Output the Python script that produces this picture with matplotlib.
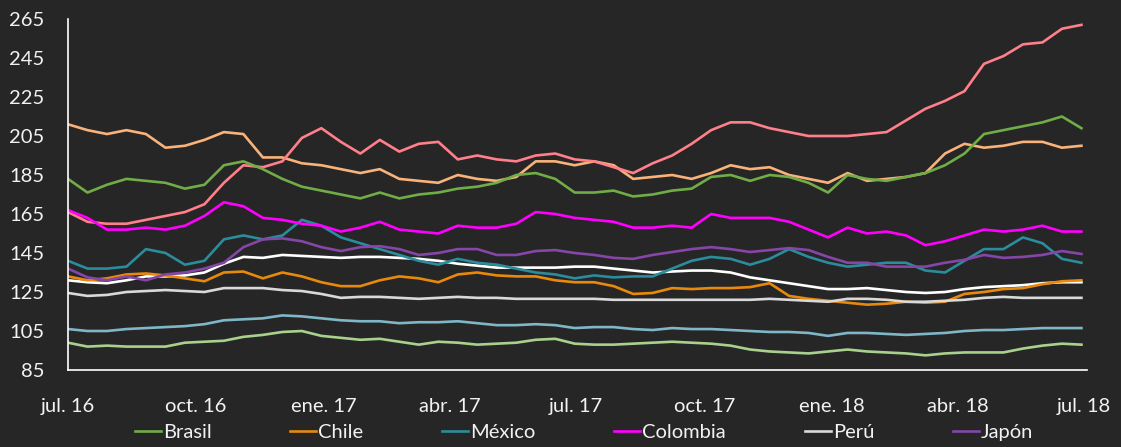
import matplotlib
matplotlib.use("Agg")
import matplotlib.pyplot as plt
import pandas as pd

# biweekly samples from 2016-07-01
dates = pd.date_range("2016-07-01", periods=53, freq="14D")

brasil = [183, 176, 180, 183, 182, 181, 178, 180, 190, 192, 188, 183, 179, 177, 175, 173,
          176, 173, 175, 176, 178, 179, 181, 185, 186, 183, 176, 176, 177, 174, 175, 177,
          178, 184, 185, 182, 185, 184, 181, 176, 185, 183, 182, 184, 186, 190, 196, 206,
          208, 210, 212, 215, 209]
brasil_b = [99, 97, 97.5, 97, 97, 97, 99, 99.5, 100, 102, 103, 104.5, 105, 102.5, 101.5, 100.5,
            101, 99.5, 98, 99.5, 99, 98, 98.5, 99, 100.5, 101, 98.5, 98, 98, 98.5, 99, 99.5,
            99, 98.5, 97.5, 95.5, 94.5, 94, 93.5, 94.5, 95.5, 94.5, 94, 93.5, 92.5, 93.5, 94, 94,
            94, 96, 97.5, 98.5, 98]
chile = [133, 131, 132, 134, 134.5, 133.5, 132, 130.5, 135, 135.5, 132, 135, 133, 130, 128, 128,
         131, 133, 132, 130, 134, 135, 133.5, 133, 133, 131, 130, 130, 128, 124, 124.5, 127,
         126.5, 127, 127, 127.5, 129.5, 123, 121.5, 120.5, 119.5, 118.5, 119, 120, 119.5, 120, 124, 125,
         126.5, 127, 129, 130.5, 131]
chile_b = [211, 208, 206, 208, 206, 199, 200, 203, 207, 206, 194, 194, 191, 190, 188, 186,
           188, 183, 182, 181, 185, 183, 182, 184, 192, 192, 190, 192, 190, 183, 184, 185,
           183, 186, 190, 188, 189, 185, 183, 181, 186, 182, 183, 184, 186, 196, 201, 199,
           200, 202, 202, 199, 200]
mexico = [141, 137, 137, 138, 147, 145, 139, 141, 152, 154, 152, 154, 162, 159, 153, 150,
          147, 144, 141, 139, 142, 140, 139, 137, 135, 134, 132, 133.5, 132.5, 133, 133, 137,
          141, 143, 142, 139, 142, 147, 143, 140, 138, 139, 140, 140, 136, 135, 141, 147,
          147, 153, 150, 142, 140]
mexico_b = [106, 105, 105, 106, 106.5, 107, 107.5, 108.5, 110.5, 111, 111.5, 113, 112.5, 111.5, 110.5, 110,
            110, 109, 109.5, 109.5, 110, 109, 108, 108, 108.5, 108, 106.5, 107, 107, 106, 105.5, 106.5,
            106, 106, 105.5, 105, 104.5, 104.5, 104, 102.5, 104, 104, 103.5, 103, 103.5, 104, 105, 105.5,
            105.5, 106, 106.5, 106.5, 106.5]
colombia = [167, 163, 157, 157, 158, 157, 159, 164, 171, 169, 163, 162, 160, 159, 156, 158,
            161, 157, 156, 155, 159, 158, 158, 160, 166, 165, 163, 162, 161, 158, 158, 159,
            158, 165, 163, 163, 163, 161, 157, 153, 158, 155, 156, 154, 149, 151, 154, 157,
            156, 157, 159, 156, 156]
colombia_b = [166, 161, 160, 160, 162, 164, 166, 170, 181, 190, 189, 192, 204, 209, 202, 196,
              203, 197, 201, 202, 193, 195, 193, 192, 195, 196, 193, 192, 189, 186, 191, 195,
              201, 208, 212, 212, 209, 207, 205, 205, 205, 206, 207, 213, 219, 223, 228, 242,
              246, 252, 253, 260, 262]
peru = [124.5, 123, 123.5, 125, 125.5, 126, 125.5, 125, 127, 127, 127, 126, 125.5, 124, 122, 122.5,
        122.5, 122, 121.5, 122, 122.5, 122, 122, 121.5, 121.5, 121.5, 121.5, 121.5, 121, 121, 121, 121,
        121, 121, 121, 121, 121.5, 121, 120.5, 120, 121.5, 121.5, 121, 120, 120, 120.5, 121, 122,
        122.5, 122, 122, 122, 122]
peru_b = [131, 130, 129.5, 131, 133, 133, 133.5, 135, 139.5, 143, 142.5, 144, 143.5, 143, 142.5, 143,
          143, 142.5, 142, 141, 139.5, 138.5, 137.5, 137.5, 137.5, 137.5, 138, 138, 137, 136, 135, 135.5,
          136, 136, 135, 132.5, 131, 129.5, 128, 126.5, 126.5, 127, 126, 125, 124.5, 125, 126.5, 127.5,
          128, 128.5, 129.5, 130, 130]
japon = [137, 132.5, 131, 133, 131, 134, 135, 137, 140, 148, 152, 152.5, 151, 148, 146, 148,
         148.5, 147, 144, 145, 147, 147, 144, 144, 146, 146.5, 145, 144, 142.5, 142, 144, 145.5,
         147, 148, 147, 145.5, 146.5, 147.5, 146.5, 143, 140, 140, 138, 138, 138, 140, 141.5, 144,
         142.5, 143, 144, 146, 144.5]

names = ["Brasil", "Chile", "México", "Colombia", "Perú", "Japón"]
main_series = [brasil, chile, mexico, colombia, peru, japon]
main_colors = ["#70AD47", "#E8890C", "#2A8C9C", "#FF00FF", "#D9D9D9", "#8546A8"]
second_series = [brasil_b, chile_b, mexico_b, colombia_b, peru_b]
second_colors = ["#A9D18E", "#F8B27A", "#7FB6C8", "#FF7F8A", "#FFFFFF"]

y_ticks = list(range(85, 266, 20))
x_ticks = pd.date_range("2016-07-01", "2018-07-01", freq="3MS")
x_labels = ["jul. 16", "oct. 16", "ene. 17", "abr. 17", "jul. 17", "oct. 17",
            "ene. 18", "abr. 18", "jul. 18"]

bg = "#262626"
txt = "#F2F2F2"
plt.rcParams["font.family"] = ["Lato", "DejaVu Sans"]

fig = plt.figure(figsize=(11.21, 4.47), dpi=100, facecolor=bg)
ax = fig.add_axes([68 / 1121, 1 - 370 / 447, (1087 - 68) / 1121, (370 - 19) / 447], facecolor=bg)

for s, c in zip(second_series, second_colors):
    ax.plot(dates, s, color=c, lw=1.9, solid_joinstyle="round")
handles = []
for s, c, n in zip(main_series, main_colors, names):
    h, = ax.plot(dates, s, color=c, lw=1.9, label=n, solid_joinstyle="round")
    handles.append(h)

ax.set_ylim(85, 265)
ax.set_yticks(y_ticks)
ax.set_xlim(pd.Timestamp("2016-07-01"), pd.Timestamp("2018-07-03"))
ax.set_xticks(x_ticks)
ax.set_xticklabels(x_labels)

for side in ["top", "right"]:
    ax.spines[side].set_visible(False)
for side in ["left", "bottom"]:
    ax.spines[side].set_color("white")
    ax.spines[side].set_linewidth(1.2)
ax.tick_params(axis="both", length=0, colors=txt, labelsize=14.5)
ax.tick_params(axis="y", pad=17)
ax.tick_params(axis="x", pad=20)

fig.legend(handles=handles, labels=names, loc="center", bbox_to_anchor=(584 / 1121, 1 - 432 / 447),
           ncol=6, frameon=False, fontsize=14.5, labelcolor=txt, handlelength=1.3,
           handletextpad=0.1, columnspacing=3.9)

fig.savefig("out.png", dpi=100, facecolor=bg)
